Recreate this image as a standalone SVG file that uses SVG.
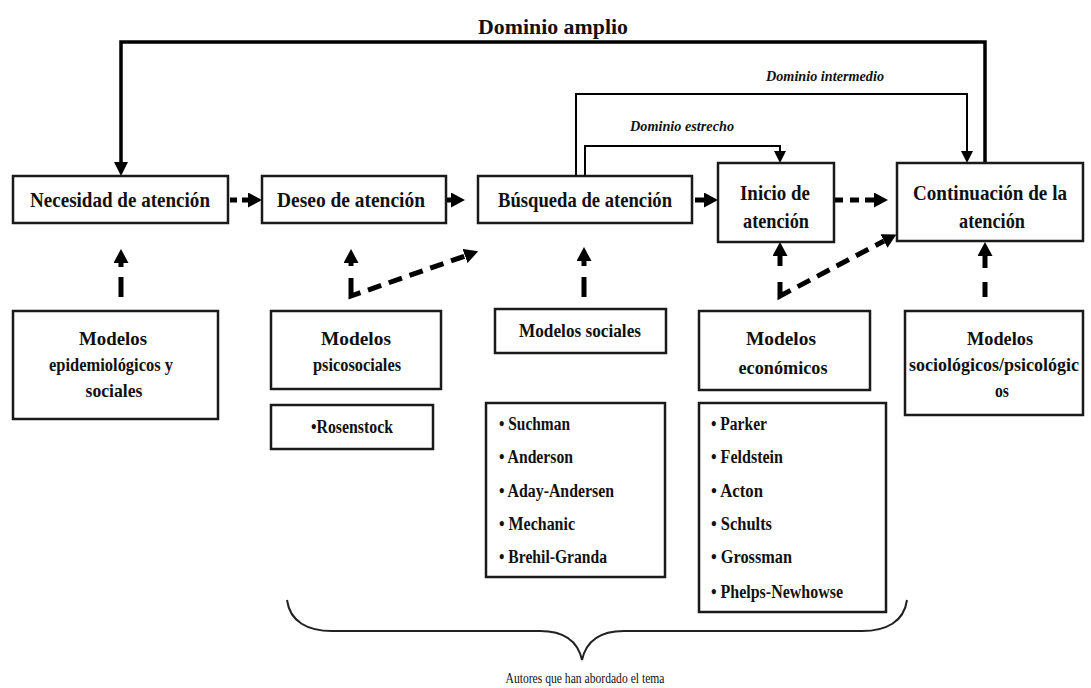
<svg xmlns="http://www.w3.org/2000/svg" width="1091" height="688" viewBox="0 0 1091 688">
<style>
.box{fill:#fff;stroke:#1a1a1a;stroke-width:2.5}
.t{font-family:"Liberation Serif","Times New Roman",serif;font-weight:bold;fill:#111;text-anchor:middle}
.tl{font-family:"Liberation Serif","Times New Roman",serif;font-weight:bold;fill:#111}
.big{font-size:22px}
.mid{font-size:19px}
.li{font-size:18px}
.cap{font-family:"Liberation Serif","Times New Roman",serif;font-weight:normal;font-size:14px;fill:#111;text-anchor:middle}
.dom{font-family:"Liberation Serif","Times New Roman",serif;font-weight:bold;font-style:italic;font-size:14px;fill:#111;text-anchor:middle}
.thick{fill:none;stroke:#000;stroke-width:3.5}
.thin{fill:none;stroke:#000;stroke-width:2}
.dash{fill:none;stroke:#000;stroke-width:5}
.brace{fill:none;stroke:#222;stroke-width:2}
</style>
<defs>
<marker id="hBig" markerUnits="userSpaceOnUse" markerWidth="14" markerHeight="14" viewBox="0 0 14 14" refX="0" refY="7" orient="auto"><path d="M0,0 L14,7 L0,14 z" fill="#000"/></marker>
<marker id="hThin" markerUnits="userSpaceOnUse" markerWidth="12" markerHeight="12" viewBox="0 0 12 12" refX="0" refY="6" orient="auto"><path d="M0,0 L12,6 L0,12 z" fill="#000"/></marker>
<marker id="hDash" markerUnits="userSpaceOnUse" markerWidth="14" markerHeight="15" viewBox="0 0 14 15" refX="0" refY="7.5" orient="auto"><path d="M0,0 L14,7.5 L0,15 z" fill="#000"/></marker>
</defs>
<text class="t" x="553" y="34" font-size="22" textLength="150" lengthAdjust="spacingAndGlyphs">Dominio amplio</text>
<text class="dom" x="825" y="81" textLength="118" lengthAdjust="spacingAndGlyphs">Dominio intermedio</text>
<text class="dom" x="682" y="131" textLength="104" lengthAdjust="spacingAndGlyphs">Dominio estrecho</text>
<g id="connectors">
<path class="thick" d="M985,163 V42 H121 V162" marker-end="url(#hBig)"/>
<path class="thin" d="M576,176 V94 H967 V151" marker-end="url(#hThin)"/>
<path class="thin" d="M585,176 V146 H780 V151" marker-end="url(#hThin)"/>
<path class="dash" d="M230,200 H237 M242,200 H248" marker-end="url(#hDash)"/>
<path class="dash" d="M428,200 H435 M440,200 H451" marker-end="url(#hDash)"/>
<path class="dash" d="M682,200 H690 M695,200 H704" marker-end="url(#hDash)"/>
<path class="dash" d="M834,200 H843 M850,200 H859 M865,200 H874" marker-end="url(#hDash)"/>
<path class="dash" d="M121,297 V277 M121,267 V263" marker-end="url(#hDash)"/>
<path class="dash" d="M351,266 V263" marker-end="url(#hDash)"/>
<path class="dash" d="M351,278 V296 L465,256" stroke-dasharray="28,8,14,8,14,8,14,8,14,8,14,8" marker-end="url(#hDash)"/>
<path class="dash" d="M584,297 V277 M584,266 V261" marker-end="url(#hDash)"/>
<path class="dash" d="M780,266 V256" marker-end="url(#hDash)"/>
<path class="dash" d="M780,282 V296 L884,241" stroke-dasharray="26,8,14,8,14,8,14,8,14,8,14,8" marker-end="url(#hDash)"/>
<path class="dash" d="M985,297 V282 M985,268 V256" marker-end="url(#hDash)"/>
<path class="brace" d="M287,600 C290,622 308,631 332,631 L540,631 C566,631 578,642 582,660 C586,642 598,631 624,631 L862,631 C886,631 904,622 907,600"/>
</g>
<g id="necesidad"><rect class="box" x="13" y="176" width="215" height="47"/><text class="t big" x="120" y="207" textLength="180" lengthAdjust="spacingAndGlyphs">Necesidad de atención</text></g>
<g id="deseo"><rect class="box" x="262" y="176" width="184" height="47"/><text class="t big" x="351" y="207" textLength="148" lengthAdjust="spacingAndGlyphs">Deseo de atención</text></g>
<g id="busqueda"><rect class="box" x="478" y="176" width="214" height="47"/><text class="t big" x="585" y="207" textLength="174" lengthAdjust="spacingAndGlyphs">Búsqueda de atención</text></g>
<g id="inicio"><rect class="box" x="718" y="163" width="116" height="79"/><text class="t big" x="775" y="200" textLength="70" lengthAdjust="spacingAndGlyphs">Inicio de</text><text class="t big" x="776" y="228" textLength="66" lengthAdjust="spacingAndGlyphs">atención</text></g>
<g id="continuacion"><rect class="box" x="897" y="163" width="186" height="78"/><text class="t big" x="990" y="200" textLength="154" lengthAdjust="spacingAndGlyphs">Continuación de la</text><text class="t big" x="992" y="228" textLength="66" lengthAdjust="spacingAndGlyphs">atención</text></g>
<g id="epidemiologicos"><rect class="box" x="13" y="311" width="205" height="108"/><text class="t mid" x="113" y="345" textLength="68" lengthAdjust="spacingAndGlyphs">Modelos</text><text class="t mid" x="111" y="371" textLength="124" lengthAdjust="spacingAndGlyphs">epidemiológicos y</text><text class="t mid" x="114" y="397" textLength="57" lengthAdjust="spacingAndGlyphs">sociales</text></g>
<g id="psicosociales"><rect class="box" x="271" y="311" width="170" height="78"/><text class="t mid" x="356" y="345" textLength="70" lengthAdjust="spacingAndGlyphs">Modelos</text><text class="t mid" x="357" y="371" textLength="88" lengthAdjust="spacingAndGlyphs">psicosociales</text></g>
<g id="rosenstock"><rect class="box" x="271" y="405" width="162" height="44"/><text class="t li" x="352" y="433" textLength="82" lengthAdjust="spacingAndGlyphs">•Rosenstock</text></g>
<g id="sociales"><rect class="box" x="495" y="309" width="171" height="44"/><text class="t mid" x="580" y="337" textLength="122" lengthAdjust="spacingAndGlyphs">Modelos sociales</text></g>
<g id="autores-sociales"><rect class="box" x="486" y="403" width="179" height="174"/>
<text class="tl li" x="499" y="430" textLength="71" lengthAdjust="spacingAndGlyphs">• Suchman</text>
<text class="tl li" x="499" y="463" textLength="74" lengthAdjust="spacingAndGlyphs">• Anderson</text>
<text class="tl li" x="499" y="497" textLength="115" lengthAdjust="spacingAndGlyphs">• Aday-Andersen</text>
<text class="tl li" x="499" y="530" textLength="76" lengthAdjust="spacingAndGlyphs">• Mechanic</text>
<text class="tl li" x="499" y="563" textLength="108" lengthAdjust="spacingAndGlyphs">• Brehil-Granda</text></g>
<g id="economicos"><rect class="box" x="699" y="311" width="171" height="79"/><text class="t mid" x="781" y="345" textLength="70" lengthAdjust="spacingAndGlyphs">Modelos</text><text class="t mid" x="783" y="374" textLength="89" lengthAdjust="spacingAndGlyphs">económicos</text></g>
<g id="autores-economicos"><rect class="box" x="699" y="403" width="187" height="209"/>
<text class="tl li" x="711" y="430" textLength="56" lengthAdjust="spacingAndGlyphs">• Parker</text>
<text class="tl li" x="711" y="463" textLength="72" lengthAdjust="spacingAndGlyphs">• Feldstein</text>
<text class="tl li" x="711" y="497" textLength="52" lengthAdjust="spacingAndGlyphs">• Acton</text>
<text class="tl li" x="711" y="530" textLength="61" lengthAdjust="spacingAndGlyphs">• Schults</text>
<text class="tl li" x="711" y="563" textLength="81" lengthAdjust="spacingAndGlyphs">• Grossman</text>
<text class="tl li" x="711" y="598" textLength="132" lengthAdjust="spacingAndGlyphs">• Phelps-Newhowse</text></g>
<g id="sociologicos"><rect class="box" x="905" y="311" width="178" height="104"/><text class="t mid" x="1000" y="345" textLength="66" lengthAdjust="spacingAndGlyphs">Modelos</text><text class="t mid" x="994" y="371" textLength="170" lengthAdjust="spacingAndGlyphs">sociológicos/psicológic</text><text class="t mid" x="1002" y="397" textLength="14" lengthAdjust="spacingAndGlyphs">os</text></g>
<text class="cap" x="585" y="683" textLength="159" lengthAdjust="spacingAndGlyphs">Autores que han abordado el tema</text>
</svg>
